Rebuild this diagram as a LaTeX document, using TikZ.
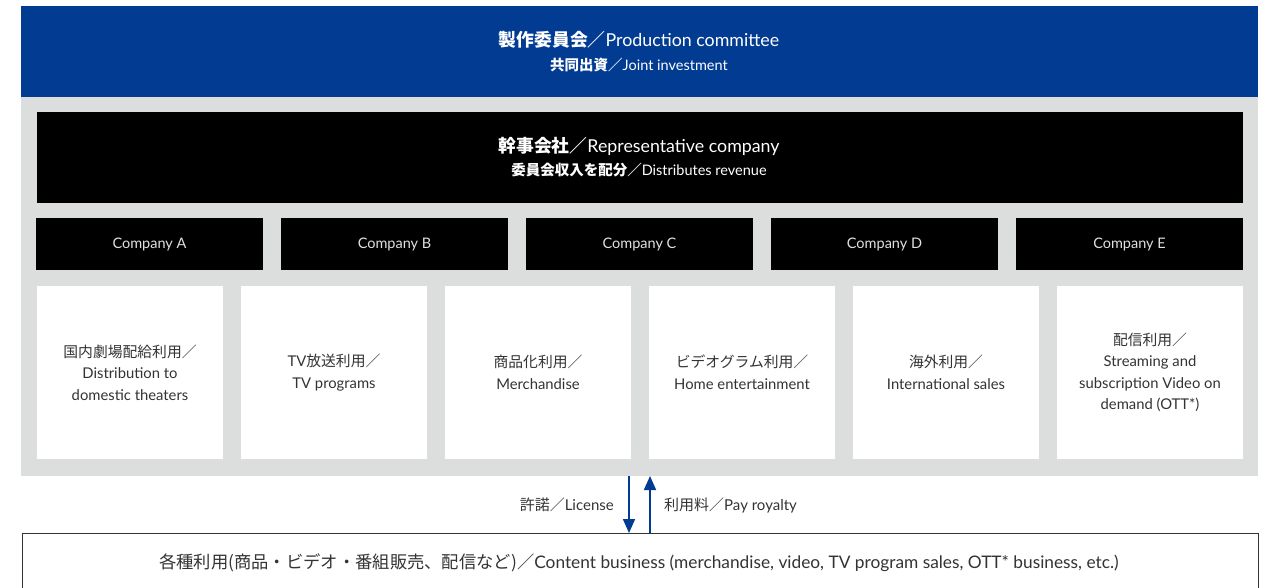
\documentclass[tikz,border=0pt]{standalone}
\usepackage{fontspec}
\setmainfont{Lato}
\newfontfamily\jp{Noto Sans CJK JP}
\usetikzlibrary{arrows.meta}
\definecolor{cblue}{HTML}{023B92}
\definecolor{cgray}{HTML}{DCDDDD}
\definecolor{ctext}{HTML}{333333}
\definecolor{cltext}{HTML}{E0E0E0}
\tikzset{
  panel/.style={inner sep=0pt, outer sep=0pt},
  company/.style={fill=black, minimum width=227pt, minimum height=52pt, panel, text=cltext, font=\fontsize{14.5}{16}\selectfont},
  usebox/.style={fill=white, minimum width=186pt, minimum height=173pt, panel, text=ctext, align=center, font=\fontsize{14.8}{21.5}\selectfont},
  flow/.style={draw=cblue, line width=1.6pt, -{Triangle[width=12pt,length=14pt]}},
  lbl/.style={text=ctext, font=\fontsize{15}{16}\selectfont, inner sep=0pt}
}
\begin{document}
\begin{tikzpicture}[x=1pt,y=-1pt]
\useasboundingbox (0,0) rectangle (1271,588);
\clip (0,0) rectangle (1271,588);
% top blue
\node[panel, fill=cblue, minimum width=1237pt, minimum height=91pt, anchor=north west] (pc) at (21,6) {};
\node[text=white, font=\fontsize{17.8}{20}\selectfont, inner sep=0pt] (pct) at (639,40) {{\jp\bfseries 製作委員会／}Production committee};
\node[text=white, font=\fontsize{14.5}{16}\selectfont, inner sep=0pt] (pcs) at (639,65) {{\jp\bfseries 共同出資／}Joint investment};
% gray
\node[panel, fill=cgray, minimum width=1237pt, minimum height=379pt, anchor=north west] (gray) at (21,97) {};
% black representative
\node[panel, fill=black, minimum width=1206pt, minimum height=91pt, anchor=north west] (rep) at (37,112) {};
\node[text=white, font=\fontsize{17.8}{20}\selectfont, inner sep=0pt] (rept) at (639,146) {{\jp\bfseries 幹事会社／}Representative company};
\node[text=white, font=\fontsize{14.5}{16}\selectfont, inner sep=0pt] (reps) at (639,170) {{\jp\bfseries 委員会収入を配分／}Distributes revenue};
% companies
\node[company, anchor=north west] (ca) at (36,218) {Company A};
\node[company, anchor=north west] (cb) at (281,218) {Company B};
\node[company, anchor=north west] (cc) at (526,218) {Company C};
\node[company, anchor=north west] (cd) at (771,218) {Company D};
\node[company, anchor=north west] (ce) at (1016,218) {Company E};
% uses
\node[usebox, anchor=north west] (u1) at (37,286) {{\jp 国内劇場配給利用／}\\Distribution to\\domestic theaters};
\node[usebox, anchor=north west] (u2) at (241,286) {TV{\jp 放送利用／}\\TV programs};
\node[usebox, anchor=north west] (u3) at (445,286) {{\jp 商品化利用／}\\Merchandise};
\node[usebox, anchor=north west] (u4) at (649,286) {{\jp ビデオグラム利用／}\\Home entertainment};
\node[usebox, anchor=north west] (u5) at (853,286) {{\jp 海外利用／}\\International sales};
\node[usebox, anchor=north west] (u6) at (1057,286) {{\jp 配信利用／}\\Streaming and\\subscription Video on\\demand (OTT*)};
% bottom
\node[panel, draw=ctext, line width=0.8pt, fill=white, minimum width=1236pt, minimum height=70pt, anchor=north west] (cb2) at (22,533) {};
\node[text=ctext, font=\fontsize{17.3}{20}\selectfont, inner sep=0pt] (cbt) at (639,563) {{\jp 各種利用(商品・ビデオ・番組販売、配信など)／}Content business (merchandise, video, TV program sales, OTT* business, etc.)};
% arrows
\coordinate (dtop) at (629,476);
\coordinate (dbot) at (629,533);
\coordinate (utop) at (650,476);
\coordinate (ubot) at (650,533);
\draw[flow] (dtop) -- (dbot);
\draw[flow] (ubot) -- (utop);
\node[lbl, anchor=east] (lic) at (614,505) {{\jp 許諾／}License};
\node[lbl, anchor=west] (roy) at (664,505) {{\jp 利用料／}Pay royalty};
\end{tikzpicture}
\end{document}
